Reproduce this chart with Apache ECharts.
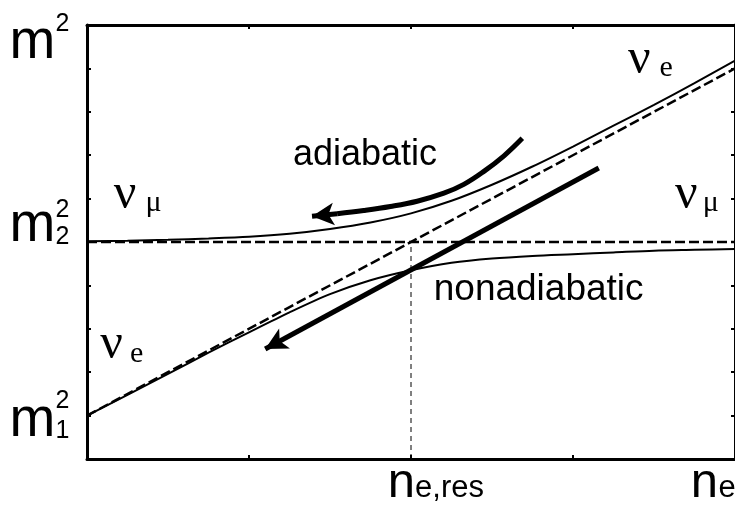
<!DOCTYPE html>
<html><head><meta charset="utf-8">
<script src="https://cdn.jsdelivr.net/npm/echarts@6/dist/echarts.min.js"></script>
<style>html,body{margin:0;padding:0;background:#fff}#c{width:735px;height:505px}</style>
</head><body><div id="c"></div>
<script>
// ---------- data ----------
const xRange = [0, 4];
const yRange = [0, 10];
const levelMu = [[0, 5], [4, 5]];          // unperturbed nu_mu level (dashed)
const levelE = [[0, 1], [4, 9]];           // unperturbed nu_e level (dashed)
const resonanceLine = [[2, 0], [2, 5]];    // n_e,res marker (thin dashed)
const curveX = [0, 0.25, 0.5, 0.75, 1, 1.25, 1.5, 1.75, 2, 2.25, 2.5, 2.75, 3, 3.25, 3.5, 3.75, 4];
const upperM2 = [5.02, 5.03, 5.05, 5.08, 5.12, 5.19, 5.30, 5.45, 5.66, 5.95, 6.32, 6.74, 7.20, 7.68, 8.16, 8.66, 9.18];
const lowerM2 = [1.00, 1.48, 1.96, 2.45, 2.92, 3.38, 3.80, 4.12, 4.35, 4.52, 4.62, 4.68, 4.72, 4.76, 4.80, 4.82, 4.84];
const adiabaticArrow = [[2.687, 7.389], [2.574, 6.986], [2.450, 6.627], [2.326, 6.327], [2.203, 6.124], [2.038, 5.940], [1.873, 5.818], [1.708, 5.726], [1.544, 5.652], [1.389, 5.594]];
const nonadiabaticArrow = [[3.159, 6.705], [1.100, 2.535]];
const yTickValues = [1, 5, 10];
const yTickBase = ['m', 'm', 'm'];
const yTickSup = ['2', '2', '2'];
const yTickSub = ['1', '2', ''];
const xTickValues = [2, 4];
const xTickBase = ['n', 'n'];
const xTickSub = ['e,res', 'e'];
const annotationText = ['adiabatic', 'nonadiabatic', 'ν', 'e', 'ν', 'μ', 'ν', 'μ', 'ν', 'e'];
const annotationAt = [[1.716, 6.924], [2.788, 3.813], [3.410, 9.080], [3.575, 8.930], [0.235, 5.956], [0.411, 5.820], [3.700, 5.956], [3.850, 5.830], [0.151, 2.500], [0.306, 2.330]];

// ---------- styles / layout ----------
const SANS = "'Liberation Sans', Arial, Helvetica, sans-serif";
const SERIF = "'Liberation Serif', 'Times New Roman', serif";
const annotationFont = [[36, SANS], [37, SANS], [50, SERIF], [30, SERIF], [50, SERIF], [30, SERIF], [50, SERIF], [30, SERIF], [50, SERIF], [30, SERIF]];
const yLabelDy = [{m: 10, sup: -14.5, sub: 15.5}, {m: -11, sup: -32, sub: -4.5}, {m: 22.5, sup: -1, sub: 0}];
const xLabelDx = [{n: -9.5, sub: 38.5}, {n: -30.5, sub: -8}];

const zip = (xs, ys) => xs.map((x, i) => [x, ys[i]]);
const chart = echarts.init(document.getElementById('c'), null, {renderer: 'canvas'});
const axisCommon = {
  type: 'value', silent: true,
  axisLine: {show: true, onZero: false, lineStyle: {color: '#000', width: 3}},
  axisTick: {show: true, inside: true, length: 4, lineStyle: {color: '#000', width: 2}},
  axisLabel: {show: false}, splitLine: {show: false}
};
const lineBase = {type: 'line', showSymbol: false, symbol: 'none', silent: true, animation: false, xAxisIndex: 0, yAxisIndex: 0};

chart.setOption({
  animation: false,
  backgroundColor: '#fff',
  grid: {left: 87, right: 0, top: 25, bottom: 46, containLabel: false},
  xAxis: [
    Object.assign({}, axisCommon, {min: xRange[0], max: xRange[1], interval: 1, position: 'bottom'}),
    Object.assign({}, axisCommon, {min: xRange[0], max: xRange[1], interval: 1, position: 'top'})
  ],
  yAxis: [
    Object.assign({}, axisCommon, {min: yRange[0], max: yRange[1], interval: 1, position: 'left'}),
    Object.assign({}, axisCommon, {min: yRange[0], max: yRange[1], interval: 1, position: 'right'})
  ],
  series: [
    Object.assign({}, lineBase, {data: resonanceLine, lineStyle: {color: '#000', width: 1, type: [5, 4]}}),
    Object.assign({}, lineBase, {data: levelMu, lineStyle: {color: '#000', width: 2.5, type: [10, 4]}}),
    Object.assign({}, lineBase, {data: levelE, lineStyle: {color: '#000', width: 2.5, type: [10, 4]}}),
    Object.assign({}, lineBase, {data: zip(curveX, upperM2), smooth: 0.3, lineStyle: {color: '#000', width: 2}}),
    Object.assign({}, lineBase, {data: zip(curveX, lowerM2), smooth: 0.3, lineStyle: {color: '#000', width: 2}}),
    Object.assign({}, lineBase, {
      data: adiabaticArrow.slice(0, adiabaticArrow.length - 1), smooth: 0.4,
      lineStyle: {color: '#000', width: 5, cap: 'butt'},
      markLine: {silent: true, symbol: ['none', 'arrow'], symbolSize: [17, 22], label: {show: false},
        lineStyle: {color: '#000', width: 5, type: 'solid'},
        data: [[{coord: adiabaticArrow[adiabaticArrow.length - 2]}, {coord: adiabaticArrow[adiabaticArrow.length - 1]}]]}
    }),
    Object.assign({}, lineBase, {
      data: [],
      markLine: {silent: true, symbol: ['none', 'arrow'], symbolSize: [17, 22], label: {show: false},
        lineStyle: {color: '#000', width: 5, type: 'solid'},
        data: [[{coord: nonadiabaticArrow[0]}, {coord: nonadiabaticArrow[1]}]]}
    })
  ]
});

// text labels (ink-centre positions, compensating for canvas 'middle' baseline)
const kSans = 0.087, kSerif = 0.11;
function txt(t, x, y, size, fam, k) {
  return {type: 'text', silent: true, z: 100,
    style: {text: t, x: x, y: y - k * size, font: size + 'px ' + fam, fill: '#000', align: 'center', verticalAlign: 'middle'}};
}
const g = [];
const x0 = chart.convertToPixel({xAxisIndex: 0}, xRange[0]);
const yBottom = chart.convertToPixel({yAxisIndex: 0}, yRange[0]);
yTickValues.forEach((v, i) => {
  const py = chart.convertToPixel({yAxisIndex: 0}, v);
  g.push(txt(yTickBase[i], x0 - 54.5, py + yLabelDy[i].m, 55, SANS, kSans));
  g.push(txt(yTickSup[i], x0 - 24.5, py + yLabelDy[i].sup, 25, SANS, 0.01));
  if (yTickSub[i]) g.push(txt(yTickSub[i], x0 - 24.5, py + yLabelDy[i].sub, 25, SANS, 0.01));
});
xTickValues.forEach((v, i) => {
  const px = chart.convertToPixel({xAxisIndex: 0}, v);
  g.push(txt(xTickBase[i], px + xLabelDx[i].n, yBottom + 28.5, 49, SANS, kSans));
  g.push(txt(xTickSub[i], px + xLabelDx[i].sub, yBottom + 32.5, 31, SANS, kSans));
});
annotationText.forEach((t, i) => {
  const p = chart.convertToPixel({xAxisIndex: 0, yAxisIndex: 0}, annotationAt[i]);
  const f = annotationFont[i];
  g.push(txt(t, p[0], p[1], f[0], f[1], f[1] === SANS ? kSans : kSerif));
});
chart.setOption({graphic: g});
</script></body></html>
